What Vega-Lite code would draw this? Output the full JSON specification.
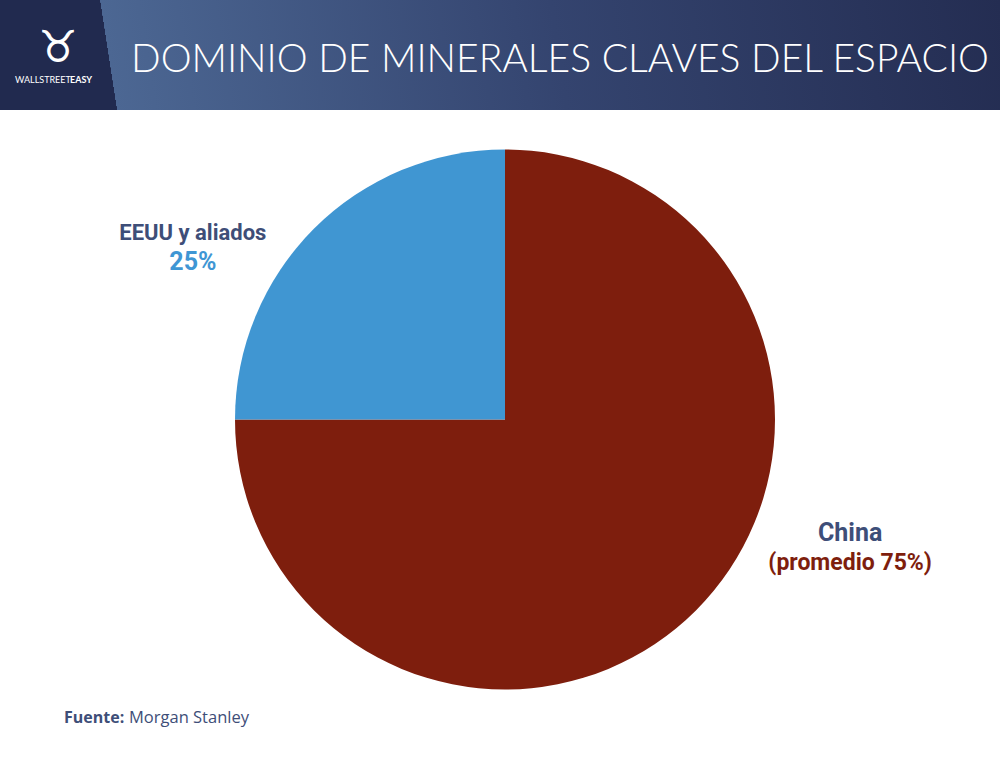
{
  "$schema": "https://vega.github.io/schema/vega-lite/v6.json",
  "width": 990,
  "height": 687,
  "autosize": {"type": "none"},
  "padding": {"left": 10, "top": 76, "right": 0, "bottom": 0},
  "background": "white",
  "config": {"view": {"stroke": null}},
  "data": {
    "values": [
      {"region": "China", "share": 75, "label": "(promedio 75%)", "order": 1},
      {"region": "EEUU y aliados", "share": 25, "label": "25%", "order": 2}
    ]
  },
  "layer": [
    {
      "data": {"values": [{"band": "header"}]},
      "mark": {
        "type": "rect",
        "fill": {
          "gradient": "linear",
          "x1": 0, "y1": 0, "x2": 1, "y2": -0.017,
          "stops": [
            {"offset": 0, "color": "#212a4f"},
            {"offset": 0.1, "color": "#212a4f"},
            {"offset": 0.1001, "color": "#4c6793"},
            {"offset": 0.55, "color": "#34446f"},
            {"offset": 1, "color": "#242d52"}
          ]
        }
      },
      "encoding": {
        "x": {"value": -10}, "x2": {"value": 990},
        "y": {"value": -76}, "y2": {"value": 34}
      }
    },
    {
      "data": {"values": [{"t": "♉"}]},
      "mark": {"type": "text", "font": "DejaVu Sans", "fontSize": 44, "color": "white", "align": "center", "baseline": "middle"},
      "encoding": {"text": {"field": "t"}, "x": {"value": 48}, "y": {"value": -27}}
    },
    {
      "data": {"values": [{"t": "WALLSTREET"}]},
      "mark": {"type": "text", "font": "Lato", "fontSize": 9, "color": "white", "align": "left", "baseline": "alphabetic"},
      "encoding": {"text": {"field": "t"}, "x": {"value": 5}, "y": {"value": 7}}
    },
    {
      "data": {"values": [{"t": "EASY"}]},
      "mark": {"type": "text", "font": "Lato", "fontWeight": "bold", "fontSize": 9, "color": "white", "align": "left", "baseline": "alphabetic"},
      "encoding": {"text": {"field": "t"}, "x": {"value": 60}, "y": {"value": 7}}
    },
    {
      "data": {"values": [{"t": "DOMINIO DE MINERALES CLAVES DEL ESPACIO"}]},
      "mark": {"type": "text", "font": "Lato", "fontWeight": 300, "fontSize": 39, "color": "white", "align": "left", "baseline": "alphabetic"},
      "encoding": {"text": {"field": "t"}, "x": {"value": 121}, "y": {"value": -4}}
    },
    {
      "mark": {"type": "arc", "outerRadius": 270},
      "encoding": {
        "theta": {"field": "share", "type": "quantitative", "stack": true},
        "order": {"field": "order", "type": "quantitative"},
        "color": {
          "field": "region", "type": "nominal",
          "scale": {"domain": ["China", "EEUU y aliados"], "range": ["#7e1e0d", "#4096d2"]},
          "legend": null
        }
      }
    },
    {
      "mark": {"type": "text", "radius": 300, "dx": -100, "dy": 32.6, "font": "Roboto", "fontWeight": "bold", "fontSize": 22, "color": "#3e4e78", "align": "center", "baseline": "alphabetic"},
      "encoding": {
        "theta": {"field": "share", "type": "quantitative", "stack": true},
        "order": {"field": "order", "type": "quantitative"},
        "text": {"condition": {"test": "datum.region === 'EEUU y aliados'", "field": "region"}, "value": ""}
      }
    },
    {
      "mark": {"type": "text", "radius": 300, "dx": -100, "dy": 62.6, "font": "Roboto", "fontWeight": "bold", "fontSize": 25, "color": "#3f96d4", "align": "center", "baseline": "alphabetic"},
      "encoding": {
        "theta": {"field": "share", "type": "quantitative", "stack": true},
        "order": {"field": "order", "type": "quantitative"},
        "text": {"condition": {"test": "datum.region === 'EEUU y aliados'", "field": "label"}, "value": ""}
      }
    },
    {
      "mark": {"type": "text", "radius": 300, "dx": 133, "dy": -90.6, "font": "Roboto", "fontWeight": "bold", "fontSize": 25, "color": "#3e4e78", "align": "center", "baseline": "alphabetic"},
      "encoding": {
        "theta": {"field": "share", "type": "quantitative", "stack": true},
        "order": {"field": "order", "type": "quantitative"},
        "text": {"condition": {"test": "datum.region === 'China'", "field": "region"}, "value": ""}
      }
    },
    {
      "mark": {"type": "text", "radius": 300, "dx": 133, "dy": -61.6, "font": "Roboto", "fontWeight": "bold", "fontSize": 23, "color": "#7e1e0d", "align": "center", "baseline": "alphabetic"},
      "encoding": {
        "theta": {"field": "share", "type": "quantitative", "stack": true},
        "order": {"field": "order", "type": "quantitative"},
        "text": {"condition": {"test": "datum.region === 'China'", "field": "label"}, "value": ""}
      }
    },
    {
      "data": {"values": [{"t": "Fuente:"}]},
      "mark": {"type": "text", "font": "Open Sans", "fontWeight": "bold", "fontSize": 16, "color": "#3e4e78", "align": "left", "baseline": "alphabetic"},
      "encoding": {"text": {"field": "t"}, "x": {"value": 54}, "y": {"value": 647}}
    },
    {
      "data": {"values": [{"t": "Morgan Stanley"}]},
      "mark": {"type": "text", "font": "Open Sans", "fontSize": 16.5, "color": "#3e4e78", "align": "left", "baseline": "alphabetic"},
      "encoding": {"text": {"field": "t"}, "x": {"value": 119}, "y": {"value": 647}}
    }
  ]
}
